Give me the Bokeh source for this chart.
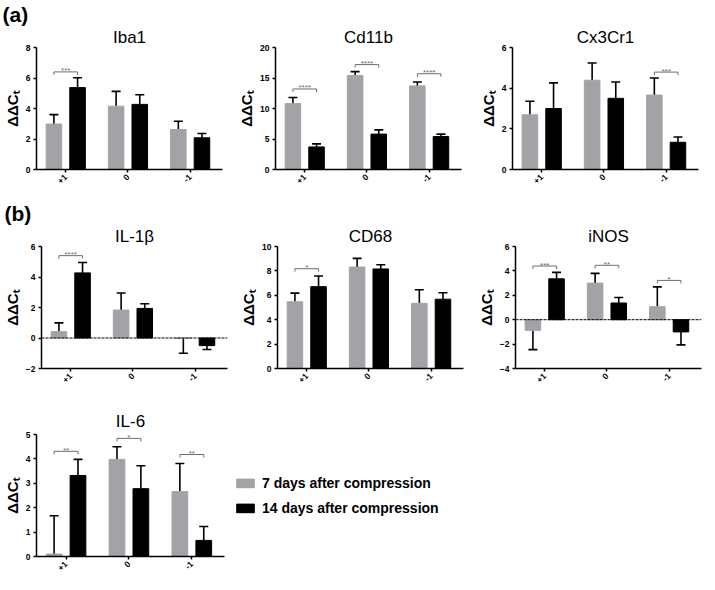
import math
import numpy as np
from bokeh.plotting import figure
from bokeh.models import (Range1d, FixedTicker, Span, Legend, LegendItem,
                          ColumnDataSource, Title)
from bokeh.layouts import row, column
from bokeh.embed import file_html
from bokeh.resources import INLINE

FONT = "Liberation Sans"
GRAY = "#a3a3a7"
BLACK = "#000000"
BRACKET = "#6e6e6e"

groups = ["+1", "0", "-1"]
series = ["7 days after compression", "14 days after compression"]
y_label = "ΔΔCₜ"

# ---- data (mean, error) ----
iba1_7d = [2.98, 4.15, 2.62]
iba1_7d_err = [0.62, 0.97, 0.54]
iba1_14d = [5.37, 4.27, 2.08]
iba1_14d_err = [0.65, 0.63, 0.28]
iba1_sig = [(0, 6.4, "***")]
iba1_ticks = [0, 2, 4, 6, 8]

cd11b_7d = [10.8, 15.4, 13.7]
cd11b_7d_err = [1.0, 0.65, 0.65]
cd11b_14d = [3.7, 5.8, 5.4]
cd11b_14d_err = [0.5, 0.7, 0.4]
cd11b_sig = [(0, 13.2, "****"), (1, 17.2, "****"), (2, 15.7, "****")]
cd11b_ticks = [0, 5, 10, 15, 20]

cx3cr1_7d = [2.69, 4.39, 3.66]
cx3cr1_7d_err = [0.67, 0.85, 0.84]
cx3cr1_14d = [3.0, 3.5, 1.34]
cx3cr1_14d_err = [1.26, 0.8, 0.26]
cx3cr1_sig = [(2, 4.79, "***")]
cx3cr1_ticks = [0, 2, 4, 6]

il1b_7d = [0.42, 1.83, -0.02]
il1b_7d_err = [0.57, 1.12, 0.98]
il1b_14d = [4.27, 1.94, -0.5]
il1b_14d_err = [0.68, 0.31, 0.25]
il1b_sig = [(0, 5.4, "****")]
il1b_ticks = [-2, 0, 2, 4, 6]

cd68_7d = [5.47, 8.32, 5.34]
cd68_7d_err = [0.71, 0.71, 1.11]
cd68_14d = [6.71, 8.16, 5.68]
cd68_14d_err = [0.87, 0.34, 0.53]
cd68_sig = [(0, 8.18, "*")]
cd68_ticks = [0, 2, 4, 6, 8, 10]

inos_7d = [-0.87, 3.0, 1.06]
inos_7d_err = [1.58, 0.8, 1.63]
inos_14d = [3.35, 1.37, -1.0]
inos_14d_err = [0.53, 0.45, 1.06]
inos_sig = [(0, 4.4, "***"), (1, 4.46, "**"), (2, 3.22, "*")]
inos_ticks = [-4, -2, 0, 2, 4, 6]

il6_7d = [0.1, 3.98, 2.66]
il6_7d_err = [1.57, 0.52, 1.15]
il6_14d = [3.32, 2.78, 0.66]
il6_14d_err = [0.66, 0.94, 0.57]
il6_sig = [(0, 4.31, "**"), (1, 4.84, "*"), (2, 4.18, "**")]
il6_ticks = [0, 1, 2, 3, 4, 5]

FW, FH = 186, 122
OFF, BW = 0.19, 0.25


def make_panel(title, v7, e7, v14, e14, ticks, sig, left, right, top, bottom,
               fw=FW, fh=FH, tag=None, title_standoff=1):
    ymin, ymax = ticks[0], ticks[-1]
    p = figure(frame_width=fw, frame_height=fh,
               min_border_left=left, min_border_right=right,
               min_border_top=top, min_border_bottom=bottom,
               x_range=Range1d(-0.47, 2.52), y_range=Range1d(ymin, ymax),
               toolbar_location=None, output_backend="svg")
    p.outline_line_color = None
    p.grid.visible = False
    p.background_fill_color = "white"
    p.border_fill_color = "white"
    p.add_layout(Title(text=title, align="center", text_font=FONT,
                       text_font_size="17px", text_font_style="normal",
                       text_color="black", standoff=title_standoff), "above")
    if tag:
        p.add_layout(Title(text=tag, align="left", offset=-left, text_font=FONT,
                           text_font_size="21px", text_font_style="bold",
                           text_color="black", standoff=0), "above")

    x = np.arange(len(groups))
    if ymin < 0:
        p.add_layout(Span(location=0, dimension="width", line_color="black",
                          line_width=1, line_dash="3 1"))
    renderers = []
    for xs, vals, errs, col in [(x - OFF, v7, e7, GRAY), (x + OFF, v14, e14, BLACK)]:
        vals = np.array(vals, dtype=float)
        errs = np.array(errs, dtype=float)
        tip = np.where(vals >= 0, vals + errs, vals - errs)
        src = ColumnDataSource(dict(x=xs, top=vals, tip=tip))
        p.segment(x0="x", y0="top", x1="x", y1="tip", source=src,
                  line_color="black", line_width=1.6)
        p.scatter(x="x", y="tip", marker="dash", size=9, source=src,
                  line_color="black", line_width=1.6)
        r = p.vbar(x="x", top="top", bottom=0, width=BW, source=src,
                   fill_color=col, line_color=col)
        renderers.append(r)

    if sig:
        drop = 3.0 * (ymax - ymin) / fh
        gi = np.array([s[0] for s in sig], dtype=float)
        yy = np.array([s[1] for s in sig], dtype=float)
        x0 = gi - OFF
        x1 = gi + OFF
        sx0 = np.concatenate([x0, x0, x1])
        sx1 = np.concatenate([x1, x0, x1])
        sy0 = np.concatenate([yy, yy, yy])
        sy1 = np.concatenate([yy, yy - drop, yy - drop])
        p.segment(x0=sx0, y0=sy0, x1=sx1, y1=sy1, line_color=BRACKET, line_width=1)
        p.text(x=gi, y=yy, text=[s[2] for s in sig], text_align="center",
               text_baseline="alphabetic", text_font_size="8px",
               text_color=BRACKET, y_offset=-1)

    p.axis.axis_line_width = 1.5
    p.axis.axis_line_color = "black"
    p.axis.major_tick_line_width = 1.5
    p.axis.major_tick_out = 3
    p.axis.major_tick_in = 0
    p.axis.minor_tick_out = 0
    p.axis.minor_tick_in = 0
    p.axis.major_label_text_font = FONT
    p.axis.major_label_text_font_size = "8.5px"
    p.axis.major_label_text_font_style = "bold"
    p.axis.major_label_text_color = "black"
    p.axis.major_label_standoff = 3

    p.yaxis.ticker = FixedTicker(ticks=ticks)
    p.yaxis.axis_label = y_label
    p.yaxis.axis_label_text_font = FONT
    p.yaxis.axis_label_text_font_size = "15px"
    p.yaxis.axis_label_text_font_style = "bold"
    p.yaxis.axis_label_text_color = "black"
    p.yaxis.axis_label_standoff = 2

    p.xaxis.ticker = FixedTicker(ticks=list(x))
    p.xaxis.major_label_overrides = {int(i): g for i, g in zip(x, groups)}
    p.xaxis.major_label_orientation = math.pi / 4
    return p, renderers


p1, _ = make_panel("Iba1", iba1_7d, iba1_7d_err, iba1_14d, iba1_14d_err, iba1_ticks,
                   iba1_sig, 34, 13, 38, 30, tag="(a)")
p2, _ = make_panel("Cd11b", cd11b_7d, cd11b_7d_err, cd11b_14d, cd11b_14d_err,
                   cd11b_ticks, cd11b_sig, 37, 10, 38, 30)
p3, _ = make_panel("Cx3Cr1", cx3cr1_7d, cx3cr1_7d_err, cx3cr1_14d, cx3cr1_14d_err,
                   cx3cr1_ticks, cx3cr1_sig, 41, 6, 38, 30)

p4, _ = make_panel("IL-1β", il1b_7d, il1b_7d_err, il1b_14d, il1b_14d_err, il1b_ticks,
                   il1b_sig, 37, 10, 40, 29, tag="(b)")
p5, _ = make_panel("CD68", cd68_7d, cd68_7d_err, cd68_14d, cd68_14d_err, cd68_ticks,
                   cd68_sig, 38, 9, 40, 29)
p6, _ = make_panel("iNOS", inos_7d, inos_7d_err, inos_14d, inos_14d_err, inos_ticks,
                   inos_sig, 43, 4, 40, 29)

p7, r7 = make_panel("IL-6", il6_7d, il6_7d_err, il6_14d, il6_14d_err, il6_ticks,
                    il6_sig, 31, 6, 37, 22, fw=188, title_standoff=7)

legend = Legend(items=[LegendItem(label=series[0], renderers=[r7[0]]),
                       LegendItem(label=series[1], renderers=[r7[1]])],
                location="center_left", orientation="vertical",
                glyph_width=22, glyph_height=11, label_height=20, spacing=5,
                padding=0, margin=10, label_standoff=6,
                border_line_color=None, background_fill_alpha=0,
                label_text_font=FONT, label_text_font_size="14px",
                label_text_font_style="bold", label_text_color="black")
p7.add_layout(legend, "right")

layout = column(row(p1, p2, p3), row(p4, p5, p6), row(p7))

open("out.html", "w").write(file_html(layout, INLINE))
